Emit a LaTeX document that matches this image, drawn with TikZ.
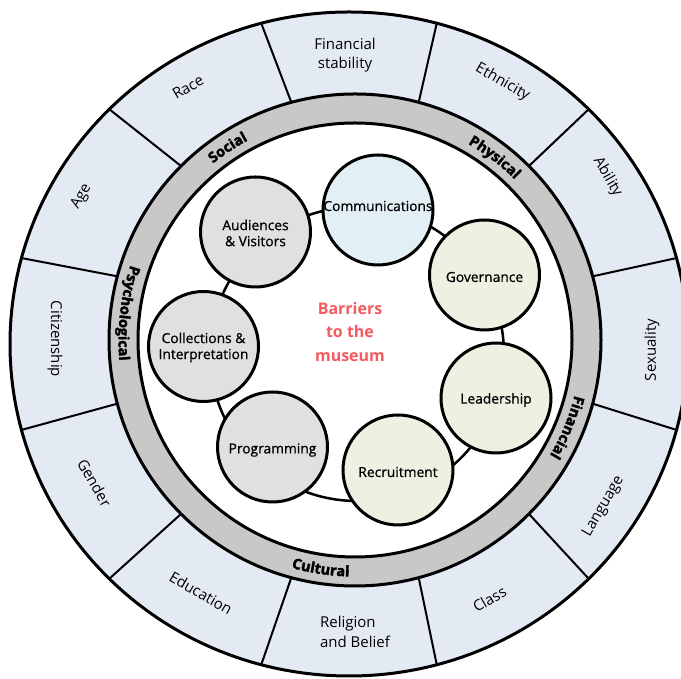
\documentclass[tikz,border=0pt]{standalone}
\usepackage{fontspec}
\setmainfont{Open Sans}
\newfontfamily\ringfont[FakeBold=2.5]{Open Sans Bold}
\newfontfamily\bubblefont[FakeBold=0.8]{Open Sans}
\usetikzlibrary{calc,decorations.text}
\definecolor{ringblue}{RGB}{227,234,244}
\definecolor{ringgray}{RGB}{200,200,200}
\definecolor{cgray}{RGB}{224,224,224}
\definecolor{cblue}{RGB}{226,240,245}
\definecolor{colive}{RGB}{238,241,226}
\definecolor{titlered}{RGB}{244,90,96}
\begin{document}
\begin{tikzpicture}[x=1pt,y=1pt,
  divider/.style={line width=2pt},
  bubble/.style={circle, draw, line width=3pt, minimum size=110pt, inner sep=0pt},
  bubbletext/.style={align=center, inner sep=0pt, font=\bubblefont\fontsize{13.8}{16}\selectfont},
  outerlabel/.style={align=center, inner sep=0pt, font=\fontsize{15}{19.5}\selectfont},
  ringlabel/.style={decorate, decoration={text along path, text align=center,
     text={|\ringfont\fontsize{14.5}{14.5}\selectfont|#1}}}
]
\useasboundingbox (0,0) rectangle (681,679);
\coordinate (O) at (349,335);
\coordinate (G) at (355,339);
\coordinate (R) at (357,325);
% outer ring
\fill[ringblue] (O) ellipse[x radius=339, y radius=332];
\foreach \a in {15,45,...,345}
  \draw[divider] ($(G)+(\a:246)$) -- ($(O)+(\a:339 and 332)$);
\draw[line width=3pt] (O) ellipse[x radius=339, y radius=332];
% grey ring
\draw[line width=3pt, fill=ringgray] (G) circle[radius=246];
\draw[line width=3pt, fill=white] (G) circle[radius=217];
% ring labels
\path[ringlabel=Social] ($(G)+(153.5:226.5)$) arc[start angle=153.5, end angle=93.5, radius=226.5];
\path[ringlabel=Physical] ($(G)+(82.6:226.5)$) arc[start angle=82.6, end angle=22.6, radius=226.5];
\path[ringlabel=Financial] ($(G)+(7.6:226.5)$) arc[start angle=7.6, end angle=-52.4, radius=226.5];
\path[ringlabel=Cultural] ($(G)+(-128.5:236.5)$) arc[start angle=-128.5, end angle=-68.5, radius=236.5];
\path[ringlabel=Psychological] ($(G)+(143.3:236.5)$) arc[start angle=143.3, end angle=203.3, radius=236.5];
% outer labels
\node[outerlabel] (fin) at (345,624) {Financial\\stability};
\node[outerlabel, rotate=-30] (eth) at (502.5,596.5) {Ethnicity};
\node[outerlabel, rotate=-60] (abi) at (607.5,502) {Ability};
\node[outerlabel, rotate=90] (sex) at (652,329) {Sexuality};
\node[outerlabel, rotate=60] (lan) at (603.5,172.5) {Language};
\node[outerlabel, rotate=30] (cla) at (489.5,80) {Class};
\node[outerlabel, align=left] (rel) at (355,47) {Religion\\and Belief};
\node[outerlabel, rotate=-30] (edu) at (201,86) {Education};
\node[outerlabel, rotate=-60] (gen) at (94.5,196) {Gender};
\node[outerlabel, rotate=-90] (cit) at (55,340) {Citizenship};
\node[outerlabel, rotate=60] (age) at (81.5,482.5) {Age};
\node[outerlabel, rotate=30] (rac) at (188,592) {Race};
% connector ring
\draw[line width=2.5pt] (R) circle[radius=147];
% bubbles
\node[bubble, fill=cblue] (comm) at (378,469) {};
\node[bubble, fill=colive] (gov) at (484.5,404) {};
\node[bubble, fill=colive] (lead) at (496,281) {};
\node[bubble, fill=colive] (recr) at (398,209) {};
\node[bubble, fill=cgray] (prog) at (272.5,232) {};
\node[bubble, fill=cgray] (coll) at (203.5,332.5) {};
\node[bubble, fill=cgray] (aud) at (255.5,447) {};
\node[bubbletext] (commt) at ([yshift=4pt]comm.center) {Communications};
\node[bubbletext] (govt) at ([yshift=-2pt]gov.center) {Governance};
\node[bubbletext] (leadt) at ([yshift=-2pt]lead.center) {Leadership};
\node[bubbletext] (recrt) at ([yshift=-2pt]recr.center) {Recruitment};
\node[bubbletext] (progt) at ([yshift=-3pt]prog.center) {Programming};
\node[bubbletext] (collt) at ([yshift=-1pt]coll.center) {Collections \&\\Interpretation};
\node[bubbletext] (audt) at ([yshift=-1pt]aud.center) {Audiences\\\& Visitors};
% title
\node[align=center, inner sep=0pt, text=titlered, font=\bfseries\fontsize{16}{23.5}\selectfont] (title) at (350,347) {Barriers\\to the\\museum};
\end{tikzpicture}
\end{document}
